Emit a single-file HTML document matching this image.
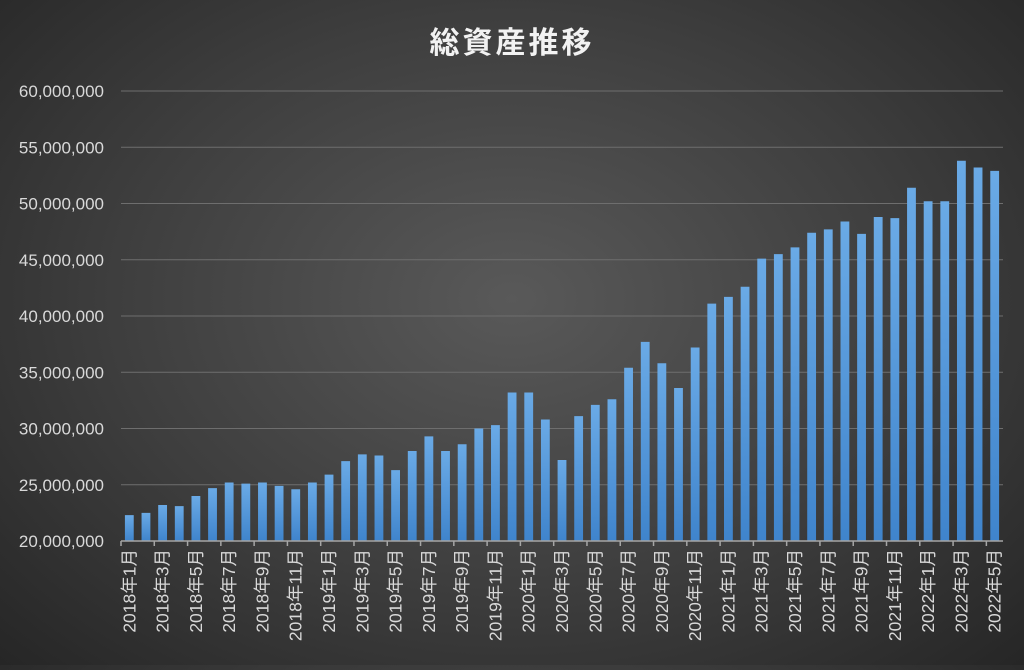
<!DOCTYPE html>
<html><head><meta charset="utf-8">
<style>
html,body{margin:0;padding:0}
body{width:1024px;height:665px;overflow:hidden;background:radial-gradient(ellipse at 50% 45%,#595959 0%,#3e3e3e 55%,#262626 100%);font-family:"Liberation Sans","Noto Sans CJK JP",sans-serif}
</style></head>
<body>
<svg id="chart" width="1024" height="665" xmlns="http://www.w3.org/2000/svg">
<defs>
<linearGradient id="bg" x1="0" y1="0" x2="0" y2="1">
<stop offset="0" stop-color="#6aaae6"/><stop offset="1" stop-color="#3f84cc"/>
</linearGradient>
</defs>
<text x="512" y="53" text-anchor="middle" font-size="30" font-weight="bold" fill="#f2f2f2" font-family="'Liberation Sans','Noto Sans CJK JP',sans-serif" letter-spacing="3">総資産推移</text>
<g id="grid"></g><g id="bars"></g><g id="axes"></g>
</svg>
<script>
const categories=[];
for(let y=2018;y<=2022;y++){for(let m=1;m<=12;m++){if(y===2022&&m>5)break;categories.push(y+"年"+m+"月");}}
const values=[22.3,22.5,23.2,23.1,24.0,24.7,25.2,25.1,25.2,24.9,24.6,25.2,25.9,27.1,27.7,27.6,26.3,28.0,29.3,28.0,28.6,30.0,30.3,33.2,33.2,30.8,27.2,31.1,32.1,32.6,35.4,37.7,35.8,33.6,37.2,41.1,41.7,42.6,45.1,45.5,46.1,47.4,47.7,48.4,47.3,48.8,48.7,51.4,50.2,50.2,53.8,53.2,52.9].map(v=>v*1e6);
const yTicks=[20000000,25000000,30000000,35000000,40000000,45000000,50000000,55000000,60000000];
const NS="http://www.w3.org/2000/svg";
const X0=121,X1=1003,Y0=541,Y1=91,vMin=20000000,vMax=60000000;
const cw=(X1-X0)/categories.length;
const yScale=v=>Y0-(v-vMin)/(vMax-vMin)*(Y0-Y1);
const xCenter=i=>X0+cw*(i+0.5);
function mk(t,a,p){const e=document.createElementNS(NS,t);for(const k in a)e.setAttribute(k,a[k]);p.appendChild(e);return e;}
const grid=document.getElementById('grid'),bars=document.getElementById('bars'),axes=document.getElementById('axes');
yTicks.forEach(v=>{
 const y=yScale(v);
 if(v>vMin){const l=mk('line',{x1:X0,x2:X1,y1:y,y2:y,stroke:'#6e6e6e','stroke-width':1},grid);
 
 }
 const t=mk('text',{x:104,y:y+6,'text-anchor':'end','font-size':17,fill:'#d9d9d9'},axes);
 
 
 t.textContent=v.toLocaleString('en-US');
});
const bw=cw*0.53;
values.forEach((v,i)=>{
 const y=yScale(v);
 const r=mk('rect',{x:xCenter(i)-bw/2,y:y,width:bw,height:Y0-y,fill:'url(#bg)'},bars);
 
 
});
const ax=mk('line',{x1:X0,x2:X1,y1:Y0,y2:Y0,stroke:'#a6a6a6','stroke-width':1.5},axes);


for(let i=0;i<=categories.length;i+=2){
 const x=X0+cw*i;
 const tk=mk('line',{x1:x,x2:x,y1:Y0,y2:Y0+5,stroke:'#a6a6a6','stroke-width':1.5},axes);
 
 
}
categories.forEach((c,i)=>{
 if(i%2)return;
 const x=xCenter(i)+6,y=549;
 const t=mk('text',{x:x,y:y,'text-anchor':'end','font-size':17.5,fill:'#d9d9d9',transform:`rotate(-90 ${x} ${y})`},axes);
 
 
 t.textContent=c;
});
</script>
</body></html>
